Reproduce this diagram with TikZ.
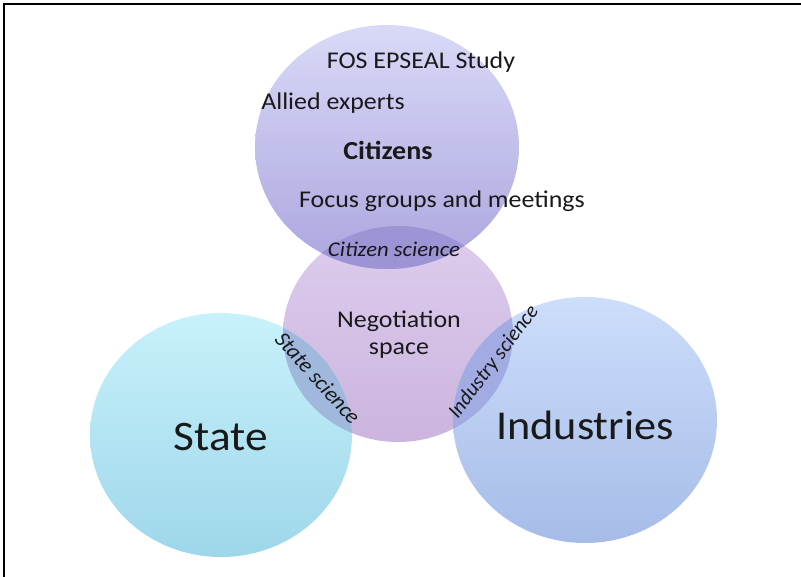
\documentclass[tikz,border=0pt]{standalone}
\usepackage{fontspec}
\setmainfont{Carlito}

\definecolor{cittop}{HTML}{D9D9F7}
\definecolor{citbot}{HTML}{ABA6DF}
\definecolor{negtop}{HTML}{DDCDEE}
\definecolor{negbot}{HTML}{CCB4DE}
\definecolor{statop}{HTML}{C8F1FB}
\definecolor{stabot}{HTML}{9ED7EA}
\definecolor{indtop}{HTML}{CDDEFB}
\definecolor{indbot}{HTML}{A6BCE8}
\definecolor{citsci}{HTML}{9C94D4}
\definecolor{stasci}{HTML}{A0B8DC}
\definecolor{indsci}{HTML}{A3ACE2}

\tikzset{
  txt/.style={inner sep=0pt, xscale=1.08, text=black!90, font=\fontsize{24}{28}\selectfont},
  scitxt/.style={inner sep=0pt, text=black!90, font=\fontsize{22}{26}\selectfont\itshape},
  bigtxt/.style={txt, font=\fontsize{42}{48}\selectfont},
}

\begin{document}
\begin{tikzpicture}[x=1pt,y=-1pt]
\useasboundingbox (0,0) rectangle (801,577);
\draw[line width=2pt] (4,577) -- (4,4) -- (801,4);

%-------------------------------------
\shade[top color=negtop,bottom color=negbot] (398,334) ellipse (115 and 108);
\shade[top color=cittop,bottom color=citbot] (387,147) ellipse (132 and 122);
\shade[top color=statop,bottom color=stabot] (221,435) ellipse (131 and 122);
\shade[top color=indtop,bottom color=indbot] (585,420) ellipse (132 and 123);

%\draw (398,334) -- (387,147);

\begin{scope}
\clip (398,334) ellipse (115 and 108);
\fill[citsci] (387,147) ellipse (132 and 122);
\end{scope}
\begin{scope}
\clip (398,334) ellipse (115 and 108);
\fill[stasci] (221,435) ellipse (131 and 122);
\end{scope}
\begin{scope}
\clip (398,334) ellipse (115 and 108);
\fill[indsci] (585,420) ellipse (132 and 123);
\end{scope}

%-------------------------------------
\node[txt] (fos) at (421,62) {FOS EPSEAL Study};
\node[txt] (allied) at (333,103) {Allied experts};
\node[txt, font=\fontsize{26}{30}\selectfont\bfseries] (citizens) at (388,150) {Citizens};
\node[txt] (focus) at (442,201) {Focus groups and meetings};
\node[txt, font=\fontsize{21}{25}\selectfont\itshape] (citsci) at (394,249) {Citizen science};

\node[txt, align=center, font=\fontsize{24}{27}\selectfont] (neg) at (399,335) {Negotiation\\space};
\node[scitxt, rotate=-48] (stasci) at (318,378) {State science};
\node[scitxt, rotate=53, font=\fontsize{21}{25}\selectfont\itshape] (indsci) at (494,362) {Industry science};

\node[bigtxt] (state) at (221,437) {State};
\node[bigtxt, font=\fontsize{41}{48}\selectfont] (ind) at (585,425) {Industries};

\end{tikzpicture}
\end{document}
